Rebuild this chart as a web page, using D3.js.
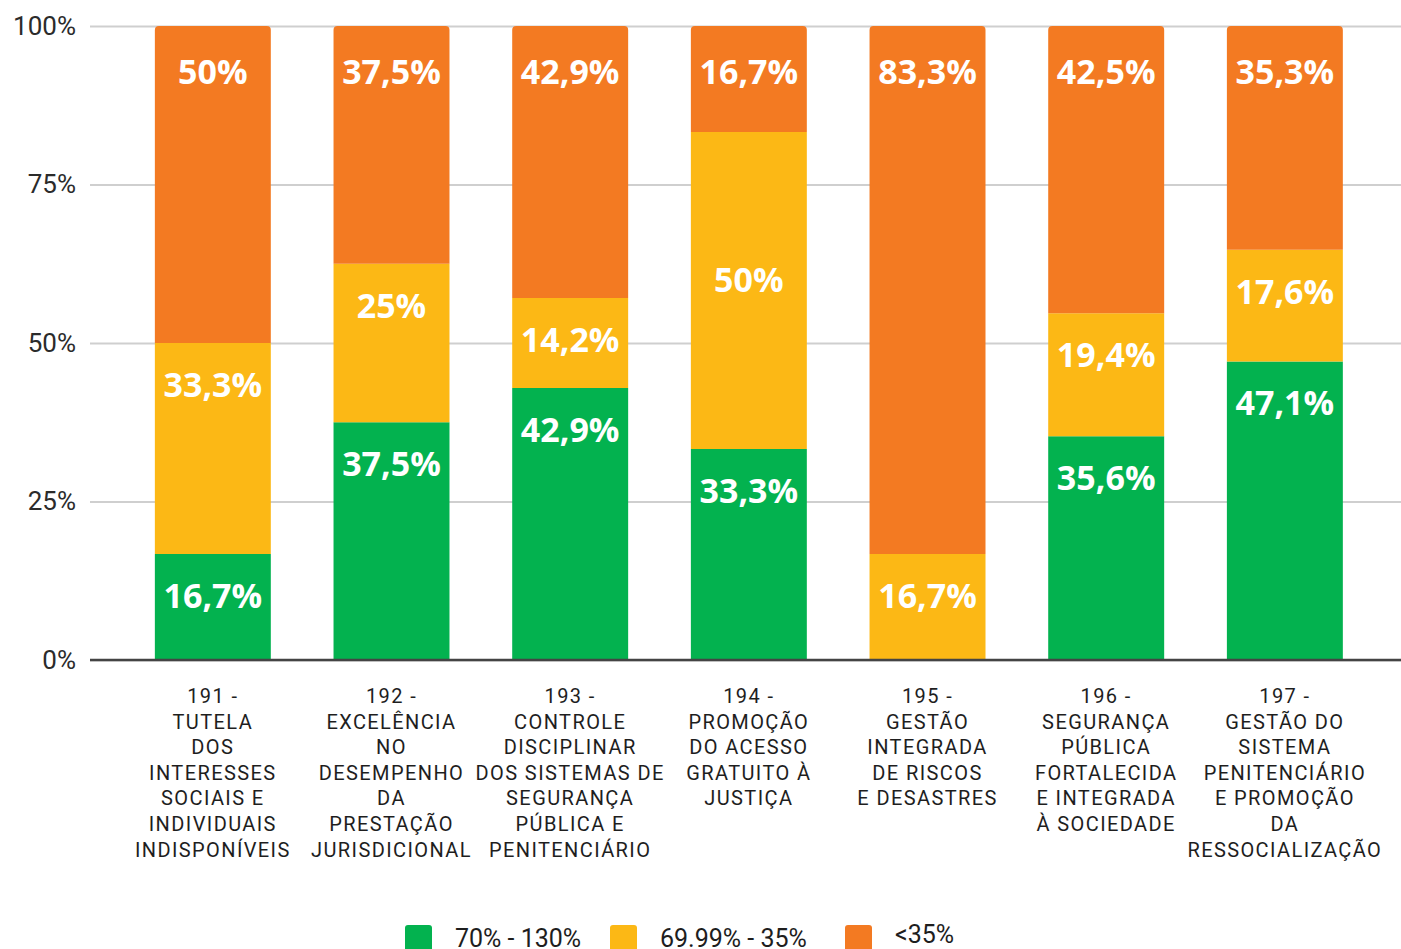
<!DOCTYPE html>
<html>
<head>
<meta charset="utf-8">
<script src="https://cdn.jsdelivr.net/npm/d3@7"></script>
<style>
  html, body { margin: 0; padding: 0; background: #fff; overflow: hidden; }
  svg { display: block; }
</style>
</head>
<body>
<svg id="chart"></svg>
<script>
// categories (label lines)
const categories = ["191", "192", "193", "194", "195", "196", "197"];
const categoryLines = [
  ["191 -", "TUTELA", "DOS", "INTERESSES", "SOCIAIS E", "INDIVIDUAIS", "INDISPONÍVEIS"],
  ["192 -", "EXCELÊNCIA", "NO", "DESEMPENHO", "DA", "PRESTAÇÃO", "JURISDICIONAL"],
  ["193 -", "CONTROLE", "DISCIPLINAR", "DOS SISTEMAS DE", "SEGURANÇA", "PÚBLICA E", "PENITENCIÁRIO"],
  ["194 -", "PROMOÇÃO", "DO ACESSO", "GRATUITO À", "JUSTIÇA"],
  ["195 -", "GESTÃO", "INTEGRADA", "DE RISCOS", "E DESASTRES"],
  ["196 -", "SEGURANÇA", "PÚBLICA", "FORTALECIDA", "E INTEGRADA", "À SOCIEDADE"],
  ["197 -", "GESTÃO DO", "SISTEMA", "PENITENCIÁRIO", "E PROMOÇÃO", "DA", "RESSOCIALIZAÇÃO"]
];

// segment heights (% of bar), bottom to top
const verde   = [16.7, 37.5, 42.9, 33.3, 0,    35.3, 47.1];
const amarelo = [33.3, 25,   14.2, 50,   16.7, 19.4, 17.6];
const laranja = [50,   37.5, 42.9, 16.7, 83.3, 45.3, 35.3];

// printed labels
const verdeTxt   = ["16,7%", "37,5%", "42,9%", "33,3%", "",      "35,6%", "47,1%"];
const amareloTxt = ["33,3%", "25%",   "14,2%", "50%",   "16,7%", "19,4%", "17,6%"];
const laranjaTxt = ["50%",   "37,5%", "42,9%", "16,7%", "83,3%", "42,5%", "35,3%"];

const yTicks = [0, 25, 50, 75, 100];

const series = [
  { key: "verde",   name: "70% - 130%",   color: "#03b24f", values: verde,   labels: verdeTxt },
  { key: "amarelo", name: "69.99% - 35%", color: "#fcb815", values: amarelo, labels: amareloTxt },
  { key: "laranja", name: "<35%",         color: "#f37a22", values: laranja, labels: laranjaTxt }
];

// labels that sit mid-segment instead of near the top
const midLabels = ["194|amarelo"];

const width = 1401, height = 949;
const margin = { top: 26, right: 0, bottom: 289, left: 90 };

const svg = d3.select("#chart").attr("width", width).attr("height", height);

const x = d3.scaleBand()
  .domain(categories)
  .range([123.5, 1374.2])
  .paddingInner(0.351)
  .paddingOuter(0.1755);

const y = d3.scaleLinear()
  .domain([0, 100])
  .range([height - margin.bottom, margin.top]);

// grid + y axis labels
const yAxis = d3.axisLeft(y)
  .tickValues(yTicks)
  .tickFormat(d => d + "%")
  .tickSize(-(width - margin.left))
  .tickPadding(14);

const gy = svg.append("g")
  .attr("transform", `translate(${margin.left},0)`)
  .call(yAxis);
gy.select(".domain").remove();
gy.selectAll(".tick line").attr("stroke", "#cfcfcf").attr("stroke-width", 2);
gy.selectAll(".tick text")
  .attr("fill", "#2b2b2b")
  .attr("font-family", "Roboto, sans-serif")
  .attr("font-size", "26px");

// stack
const rows = categories.map((c, i) => {
  const r = { cat: c };
  series.forEach(s => r[s.key] = s.values[i]);
  return r;
});
const stack = d3.stack().keys(series.map(s => s.key));
const stacked = stack(rows);

const topKey = (i) => {
  let k = null;
  series.forEach(s => { if (s.values[i] > 0) k = s.key; });
  return k;
};

const r = 4;
stacked.forEach((layer, li) => {
  const s = series[li];
  svg.append("g")
    .selectAll("path")
    .data(layer)
    .join("path")
    .attr("fill", s.color)
    .attr("d", (d, i) => {
      if (d[1] - d[0] <= 0) return null;
      const x0 = x(d.data.cat), w = x.bandwidth();
      const yt = y(d[1]), yb = y(d[0]);
      if (topKey(i) === s.key) {
        return `M${x0},${yb}V${yt + r}Q${x0},${yt} ${x0 + r},${yt}H${x0 + w - r}Q${x0 + w},${yt} ${x0 + w},${yt + r}V${yb}Z`;
      }
      return `M${x0},${yb}V${yt}H${x0 + w}V${yb}Z`;
    });
});

// value labels
stacked.forEach((layer, li) => {
  const s = series[li];
  svg.append("g")
    .selectAll("text")
    .data(layer)
    .join("text")
    .attr("x", d => x(d.data.cat) + x.bandwidth() / 2)
    .attr("y", d => {
      if (midLabels.includes(d.data.cat + "|" + s.key)) return (y(d[0]) + y(d[1])) / 2 - 10;
      return y(d[1]) + (s.key === "laranja" ? 46 : 42);
    })
    .attr("dy", "0.35em")
    .attr("text-anchor", "middle")
    .attr("fill", "#fff")
    .attr("font-family", "'Open Sans', sans-serif")
    .attr("font-weight", 700)
    .attr("font-size", "34px")
    .text((d, i) => s.labels[i]);
});

// baseline
svg.append("line")
  .attr("x1", margin.left).attr("x2", width)
  .attr("y1", y(0)).attr("y2", y(0))
  .attr("stroke", "#444").attr("stroke-width", 2.5);

// category labels
const gx = svg.append("g");
categories.forEach((c, i) => {
  const t = gx.append("text")
    .attr("x", x(c) + x.bandwidth() / 2)
    .attr("y", y(0) + 43)
    .attr("text-anchor", "middle")
    .attr("fill", "#1e1e1e")
    .attr("font-family", "Roboto, sans-serif")
    .attr("font-size", "20px")
    .attr("letter-spacing", "1.4px");
  categoryLines[i].forEach((line, j) => {
    t.append("tspan")
      .attr("x", x(c) + x.bandwidth() / 2)
      .attr("dy", j === 0 ? 0 : 25.6)
      .text(line);
  });
});

// legend
const legendX = [405, 610, 845];
const lg = svg.append("g");
series.forEach((s, i) => {
  const g = lg.append("g").attr("transform", `translate(${legendX[i]},925)`);
  g.append("rect")
    .attr("width", 27).attr("height", 27).attr("rx", 3)
    .attr("fill", s.color);
  g.append("text")
    .attr("x", 50)
    .attr("y", i === 2 ? 18 : 22)
    .attr("fill", "#1e1e1e")
    .attr("font-family", "Roboto, sans-serif")
    .attr("font-size", "25px")
    .text(s.name);
});
</script>
</body>
</html>
